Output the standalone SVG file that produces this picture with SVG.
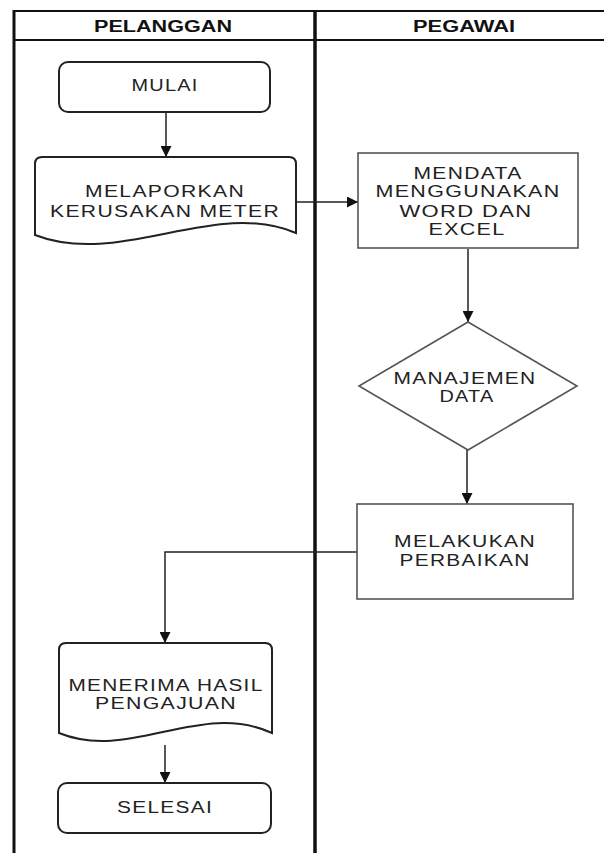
<svg xmlns="http://www.w3.org/2000/svg" width="604" height="853" viewBox="0 0 604 853">
<style>
.lane{stroke:#111;fill:none}
.term{fill:#fff;stroke:#222;stroke-width:2}
.proc{fill:#fff;stroke:#555;stroke-width:1.6}
.t{font-family:"Liberation Sans",Arial,sans-serif;font-size:16px;fill:#222;text-anchor:middle;letter-spacing:1px}
.h{font-family:"Liberation Sans",Arial,sans-serif;font-size:16px;font-weight:bold;fill:#111;text-anchor:middle}
.c{fill:none;stroke:#222;stroke-width:1.5}
</style>
<defs>
<marker id="ah" viewBox="0 0 10 10" refX="10" refY="5" markerWidth="11" markerHeight="11" markerUnits="userSpaceOnUse" orient="auto">
<path d="M0,0 L10,5 L0,10 Z" fill="#111"/>
</marker>
</defs>
<rect width="604" height="853" fill="#fff"/>
<g id="lanes">
<line class="lane" x1="13" y1="11" x2="604" y2="11" stroke-width="2"/>
<line class="lane" x1="13" y1="40" x2="604" y2="40" stroke-width="2"/>
<line class="lane" x1="14" y1="10" x2="14" y2="853" stroke-width="3"/>
<line class="lane" x1="315" y1="10" x2="315" y2="853" stroke-width="3.5"/>
<text class="h" x="163" y="32" textLength="138" lengthAdjust="spacingAndGlyphs">PELANGGAN</text>
<text class="h" x="464" y="32" textLength="102" lengthAdjust="spacingAndGlyphs">PEGAWAI</text>
</g>
<g id="connectors">
<line class="c" x1="166" y1="112" x2="166" y2="157" marker-end="url(#ah)"/>
<line class="c" x1="296" y1="202" x2="358" y2="202" marker-end="url(#ah)"/>
<line class="c" x1="468" y1="249" x2="468" y2="322" marker-end="url(#ah)"/>
<line class="c" x1="467" y1="450" x2="467" y2="504" marker-end="url(#ah)"/>
<polyline class="c" points="357,552 165,552 165,643" marker-end="url(#ah)"/>
<line class="c" x1="165" y1="745" x2="165" y2="783" marker-end="url(#ah)"/>
</g>
<g id="mulai">
<rect class="term" x="59" y="62" width="211" height="50" rx="9"/>
<text class="t" x="165" y="91" textLength="67" lengthAdjust="spacingAndGlyphs">MULAI</text>
</g>
<g id="melaporkan">
<path class="term" d="M35,235 L35,164 Q35,157 42,157 L289,157 Q296,157 296,164 L296,233 C215,198 120,268 35,235 Z"/>
<text class="t" x="165" y="197" textLength="160" lengthAdjust="spacingAndGlyphs">MELAPORKAN</text>
<text class="t" x="165" y="217" textLength="230" lengthAdjust="spacingAndGlyphs">KERUSAKAN METER</text>
</g>
<g id="mendata">
<rect class="proc" x="358" y="153" width="220" height="95"/>
<text class="t" x="468" y="179" textLength="109" lengthAdjust="spacingAndGlyphs">MENDATA</text>
<text class="t" x="468" y="197" textLength="185" lengthAdjust="spacingAndGlyphs">MENGGUNAKAN</text>
<text class="t" x="466" y="217" textLength="133" lengthAdjust="spacingAndGlyphs">WORD DAN</text>
<text class="t" x="467" y="235" textLength="77" lengthAdjust="spacingAndGlyphs">EXCEL</text>
</g>
<g id="manajemen">
<polygon class="proc" points="468,322 577,386 468,450 359,386"/>
<text class="t" x="465" y="384" textLength="143" lengthAdjust="spacingAndGlyphs">MANAJEMEN</text>
<text class="t" x="467" y="402" textLength="55" lengthAdjust="spacingAndGlyphs">DATA</text>
</g>
<g id="perbaikan">
<rect class="proc" x="357" y="504" width="216" height="95"/>
<text class="t" x="465" y="547" textLength="142" lengthAdjust="spacingAndGlyphs">MELAKUKAN</text>
<text class="t" x="465" y="566" textLength="131" lengthAdjust="spacingAndGlyphs">PERBAIKAN</text>
</g>
<g id="menerima">
<path class="term" d="M59,733 L59,650 Q59,643 66,643 L265,643 Q272,643 272,650 L272,733 C200,700 130,762 59,733 Z"/>
<text class="t" x="166" y="691" textLength="195" lengthAdjust="spacingAndGlyphs">MENERIMA HASIL</text>
<text class="t" x="166" y="709" textLength="142" lengthAdjust="spacingAndGlyphs">PENGAJUAN</text>
</g>
<g id="selesai">
<rect class="term" x="58" y="783" width="213" height="50" rx="9"/>
<text class="t" x="165" y="813" textLength="96" lengthAdjust="spacingAndGlyphs">SELESAI</text>
</g>
</svg>
